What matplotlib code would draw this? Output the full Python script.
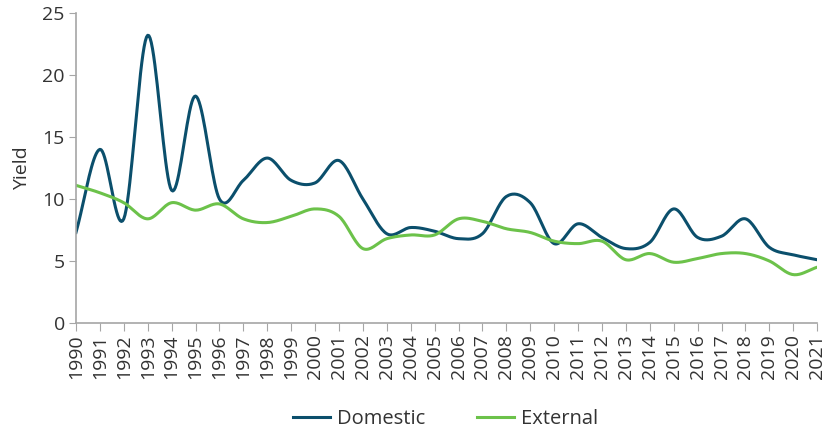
import numpy as np
import matplotlib
matplotlib.use("Agg")
import matplotlib.pyplot as plt

plt.rcParams['font.family'] = ['Open Sans', 'DejaVu Sans']

years = list(range(1990, 2022))
domestic = [7.3, 14.0, 8.4, 23.2, 10.7, 18.3, 10.0, 11.5, 13.3, 11.5,
            11.3, 13.1, 10.0, 7.2, 7.7, 7.4, 6.8, 7.2, 10.2, 9.7,
            6.4, 8.0, 6.9, 6.0, 6.5, 9.2, 6.9, 7.0, 8.4, 6.1,
            5.5, 5.1]
external = [11.1, 10.5, 9.7, 8.4, 9.7, 9.1, 9.6, 8.4, 8.1, 8.6,
            9.2, 8.6, 6.0, 6.8, 7.1, 7.1, 8.4, 8.2, 7.6, 7.3,
            6.6, 6.4, 6.6, 5.1, 5.6, 4.9, 5.2, 5.6, 5.6, 5.0,
            3.9, 4.5]

def smooth(x, y, n=20):
    # catmull-rom like excel smoothed lines
    x = np.asarray(x, float); y = np.asarray(y, float)
    px = np.concatenate([[2*x[0]-x[1]], x, [2*x[-1]-x[-2]]])
    py = np.concatenate([[2*y[0]-y[1]], y, [2*y[-1]-y[-2]]])
    xs = []; ys = []
    for i in range(1, len(px)-2):
        t = np.linspace(0, 1, n, endpoint=False)
        for p, out in ((px, xs), (py, ys)):
            p0, p1, p2, p3 = p[i-1], p[i], p[i+1], p[i+2]
            out.extend(0.5*((2*p1) + (-p0+p2)*t + (2*p0-5*p1+4*p2-p3)*t**2
                            + (-p0+3*p1-3*p2+p3)*t**3))
    xs.append(x[-1]); ys.append(y[-1])
    return np.array(xs), np.array(ys)

fig = plt.figure(figsize=(8.33, 4.32), dpi=100)
ax = fig.add_axes([0.0912, 0.2523, 0.8898, 0.7177])

sx, sy = smooth(years, domestic)
ax.plot(sx, sy, color="#0B4F6C", lw=2.2, label="Domestic")
sx, sy = smooth(years, external)
ax.plot(sx, sy, color="#6CC24A", lw=2.2, label="External")

ax.set_xlim(1990, 2021)
ax.set_ylim(0, 25)
ax.set_xticks(years)
ax.set_xticklabels([str(y) for y in years], rotation=90, fontsize=14, color="#333333")
ax.set_yticks([0, 5, 10, 15, 20, 25])
ax.tick_params(axis='y', labelsize=14, colors="#333333", length=5, color="#A6A6A6", pad=3)
ax.tick_params(axis='x', length=6, color="#A6A6A6", pad=2)
ax.set_ylabel("Yield", fontsize=14, color="#333333", labelpad=8)
for s in ['top', 'right']:
    ax.spines[s].set_visible(False)
for s in ['left', 'bottom']:
    ax.spines[s].set_color("#A6A6A6")
    ax.spines[s].set_linewidth(1.2)

fig.legend(loc="lower center", bbox_to_anchor=(0.535, -0.035), ncol=2, frameon=False,
           fontsize=14.5, handlelength=1.8, handletextpad=0.35, columnspacing=2.6,
           labelcolor="#333333")

fig.savefig("out.png", dpi=100)
